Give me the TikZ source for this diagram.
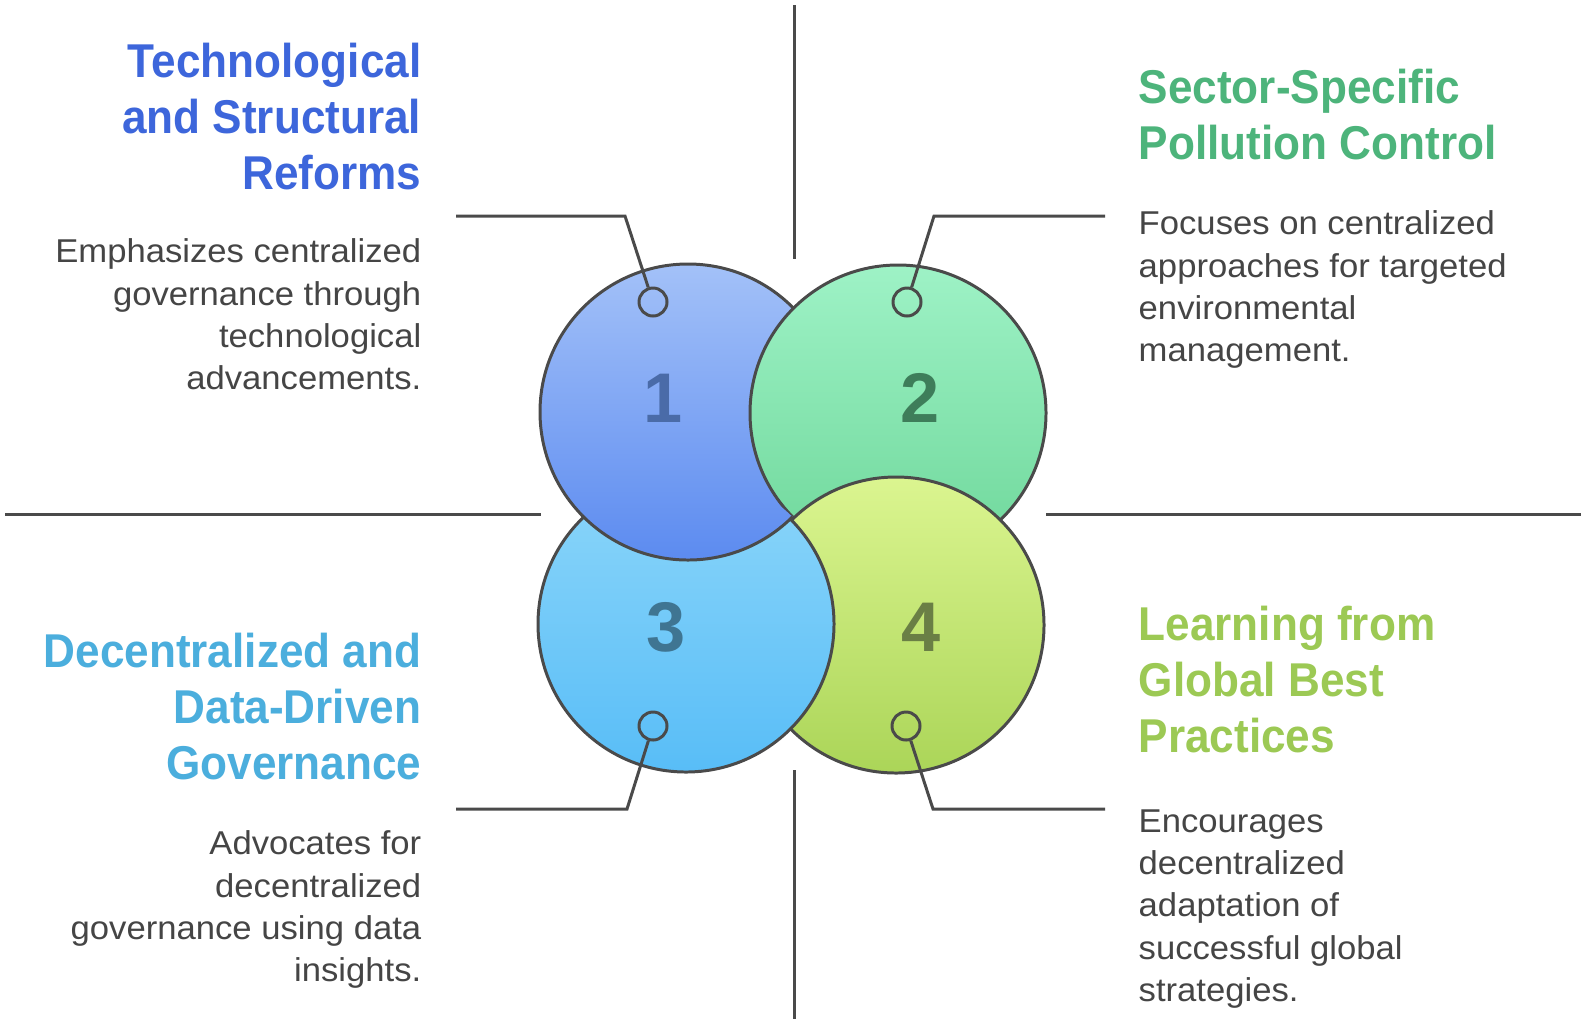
\documentclass[tikz,border=0pt]{standalone}
\usepackage{fontspec}
\setmainfont{Liberation Sans}
\newfontfamily\headfont[FakeStretch=0.93]{Liberation Sans}
\newfontfamily\bodyfont[FakeStretch=1.05]{Liberation Sans}
\usepackage{xcolor}
\usepackage{tikz}
\usetikzlibrary{positioning}

\definecolor{lineclr}{HTML}{4A4A4A}
\definecolor{txtclr}{HTML}{454545}
\definecolor{headA}{HTML}{3D66DB}
\definecolor{headB}{HTML}{4DB47B}
\definecolor{headC}{HTML}{4BAEDD}
\definecolor{headD}{HTML}{9CC954}
\definecolor{topA}{HTML}{A3C1F8}
\definecolor{botA}{HTML}{5C8BF0}
\definecolor{topB}{HTML}{9EF2C6}
\definecolor{botB}{HTML}{6ED79A}
\definecolor{topC}{HTML}{8CD6FA}
\definecolor{botC}{HTML}{58BDF7}
\definecolor{topD}{HTML}{DBF590}
\definecolor{botD}{HTML}{ABD558}
\definecolor{numA}{HTML}{4A6BA8}
\definecolor{numB}{HTML}{3E7D5A}
\definecolor{numC}{HTML}{3F7592}
\definecolor{numD}{HTML}{6A7F45}

\begin{document}
\begin{tikzpicture}[
    bigdisc/.style={circle, draw=lineclr, line width=0.85pt, minimum size=2.96cm, inner sep=0pt},
    ring/.style={circle, draw=lineclr, line width=0.85pt, minimum size=0.28cm, inner sep=0pt},
    digit/.style={inner sep=0pt, font=\fontsize{20pt}{20pt}\selectfont\bfseries},
    head/.style={inner sep=0pt, font=\headfont\bfseries\fontsize{13.5pt}{15.85pt}\selectfont},
    desc/.style={inner sep=0pt, text=txtclr, font=\bodyfont\fontsize{9.39pt}{12.06pt}\selectfont},
    leader/.style={draw=lineclr, line width=0.85pt},
    guide/.style={draw=lineclr, line width=0.85pt}]
    \path[fill=white, use as bounding box] (0,0) rectangle (15.86,-10.24);

    % Guides
    \draw[guide] (7.94,-0.05) -- (7.94,-2.59);
    \draw[guide] (7.94,-7.70) -- (7.94,-10.19);
    \draw[guide] (0.05,-5.14) -- (5.41,-5.14);
    \draw[guide] (10.46,-5.14) -- (15.81,-5.14);

    % Circles
    \node[bigdisc, top color=topA, bottom color=botA] (c1) at (6.88,-4.12) {};
    \node[bigdisc, top color=topB, bottom color=botB] (c2) at (8.98,-4.13) {};
    \node[bigdisc, top color=topD, bottom color=botD] (c4) at (8.96,-6.25) {};
    \node[bigdisc, top color=topC, bottom color=botC] (c3) at (6.86,-6.24) {};
    \begin{scope}
        \clip (c3.center) circle (1.51);
        \node[bigdisc, top color=topA, bottom color=botA] (c1top) at (c1.center) {};
    \end{scope}

    % Numbers
    \node[digit, text=numA] (n1) at (6.63,-3.98) {1};
    \node[digit, text=numB] (n2) at (9.20,-3.98) {2};
    \node[digit, text=numC] (n3) at (6.66,-6.27) {3};
    \node[digit, text=numD] (n4) at (9.21,-6.27) {4};

    % Rings
    \node[ring] (p1) at (6.53,-3.02) {};
    \node[ring] (p2) at (9.07,-3.02) {};
    \node[ring] (p3) at (6.53,-7.26) {};
    \node[ring] (p4) at (9.06,-7.26) {};

    % Leaders
    \coordinate (k1) at (6.25,-2.16);
    \coordinate (e1) at (4.56,-2.16);
    \coordinate (k2) at (9.34,-2.16);
    \coordinate (e2) at (11.05,-2.16);
    \coordinate (k3) at (6.27,-8.09);
    \coordinate (e3) at (4.56,-8.09);
    \coordinate (k4) at (9.33,-8.09);
    \coordinate (e4) at (11.05,-8.09);
    \draw[leader] (p1) -- (k1) -- (e1);
    \draw[leader] (p2) -- (k2) -- (e2);
    \draw[leader] (p3) -- (k3) -- (e3);
    \draw[leader] (p4) -- (k4) -- (e4);

    % Texts
    \node[head, text=headA, anchor=north east, align=right] (t1) at (4.22,-0.39)
        {\rule{0pt}{0.8em}Technological\\and Structural\\Reforms};
    \node[desc, anchor=north east, align=right] (d1) at (4.22,-2.356)
        {\rule{0pt}{0.8em}Emphasizes centralized\\governance through\\technological\\advancements.};
    \node[head, text=headB, anchor=north west, align=left] (t2) at (11.38,-0.65)
        {\rule{0pt}{0.8em}Sector-Specific\\Pollution Control};
    \node[desc, anchor=north west, align=left] (d2) at (11.38,-2.076)
        {\rule{0pt}{0.8em}Focuses on centralized\\approaches for targeted\\environmental\\management.};
    \node[head, text=headC, anchor=north east, align=right] (t3) at (4.22,-6.29)
        {\rule{0pt}{0.8em}Decentralized and\\Data-Driven\\Governance};
    \node[desc, anchor=north east, align=right] (d3) at (4.22,-8.276)
        {\rule{0pt}{0.8em}Advocates for\\decentralized\\governance using data\\insights.};
    \node[head, text=headD, anchor=north west, align=left] (t4) at (11.38,-6.02)
        {\rule{0pt}{0.8em}Learning from\\Global Best\\Practices};
    \node[desc, anchor=north west, align=left] (d4) at (11.38,-8.05)
        {\rule{0pt}{0.8em}Encourages\\decentralized\\adaptation of\\successful global\\strategies.};
\end{tikzpicture}
\end{document}
